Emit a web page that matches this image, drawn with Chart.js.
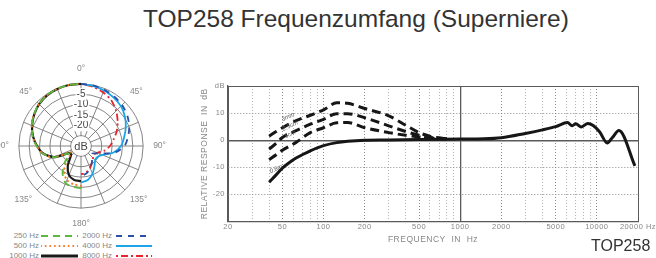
<!DOCTYPE html>
<html>
<head>
<meta charset="utf-8">
<script src="https://cdn.jsdelivr.net/npm/chart.js@4.4.1/dist/chart.umd.min.js"></script>
<style>
  html, body { margin: 0; padding: 0; background: #fff; }
  #page { position: relative; width: 656px; height: 258px; overflow: hidden; font-family: 'Liberation Sans', Arial, sans-serif; }
  #title { position: absolute; left: 143px; top: 5px; font-size: 24.5px; color: #333; white-space: nowrap; }
  #model { position: absolute; left: 591px; top: 237px; font-size: 16px; color: #333; }
  #polar { position: absolute; left: -4px; top: 63px; }
  #resp { position: absolute; left: 190px; top: 78px; }
  .lg { position: absolute; font-size: 8px; line-height: 10px; color: #888; white-space: nowrap; }
  .lg svg { position: absolute; top: 0; }
</style>
</head>
<body>
<div id="page">
  <div id="title">TOP258 Frequenzumfang (Superniere)</div>
  <canvas id="polar" width="171" height="166"></canvas>
  <canvas id="resp" width="466" height="180"></canvas>
  <div id="legend"></div>
  <div id="model">TOP258</div>
</div>
<script>
// ---- polar pattern (dB), one value every 11.25 deg, clockwise from 0 deg ----
const polarAngleLabels = ["0°", "", "", "", "45°", "", "", "", "90°", "", "", "", "135°", "", "", "",
                          "180°", "", "", "", "135°", "", "", "", "90°", "", "", "", "45°", "", "", ""];
const polarFreqLabels = ["250 Hz", "500 Hz", "1000 Hz", "2000 Hz", "4000 Hz", "8000 Hz"];

// low frequencies drawn on the left half, high frequencies on the right half
const polar250 = [0, null, null, null, null, null, null, null, null, null, null, null, null, null, null, null,
                  -9.6, -9.9, -10.6, -14, -19, -23.5, -15.8, -11.2, -8.6, -6.2, -4.3, -2.7, -1.3, -0.5, -0.1, 0];
const polar500 = [0, null, null, null, null, null, null, null, null, null, null, null, null, null, null, null,
                  -10.8, -11.2, -12.2, -15.2, -20.5, -24.5, -15.6, -11.2, -8.6, -6.2, -4.3, -2.7, -1.3, -0.5, -0.1, 0];
const polar1000 = [0, null, null, null, null, null, null, null, null, null, null, null, null, null, null, null,
                   -13, -13.3, -14.8, -18.5, -23, -24, -16, -11.4, -8.8, -6.4, -4.4, -2.8, -1.4, -0.6, -0.2, 0];
const polar2000 = [0, -0.2, -0.6, -1.2, -2, -3.2, -4.8, -6.8, -9, -13.5, -20.5, -23.5, -22.5, -20.5, -18.5, -16.5,
                   -15.5, null, null, null, null, null, null, null, null, null, null, null, null, null, null, null];
const polar4000 = [0, -0.4, -1, -1.8, -2.8, -4.5, -6.6, -8.8, -10.7, -14, -18.8, -20.5, -20.3, -18.3, -15.5, -13.3,
                   -12.4, null, null, null, null, null, null, null, null, null, null, null, null, null, null, null];
const polar8000 = [0, -0.8, -2, -3.6, -6, -8.7, -11.3, -14, -16, -18.5, -21.5, -22.5, -21.8, -20.5, -18.5, -17,
                   -16.3, null, null, null, null, null, null, null, null, null, null, null, null, null, null, null];
const polarRingTicks = [-30, -25, -20, -15, -10, -5, 0];

const polarColors = ["#5db83f", "#f07a26", "#1a1a1a", "#2b4fa6", "#1ba5e8", "#e6242b"];
const polarDashes = [[7, 5], [0.1, 4.5], [], [6, 6], [], [2, 3, 7, 3]];
const polarWidths = [1.8, 2.2, 2.2, 1.8, 1.8, 1.8];

// ---- frequency response ----
const freqGridValues = [20, 30, 40, 50, 60, 70, 80, 90, 100, 200, 300, 400, 500, 600, 700, 800, 900,
                        1000, 2000, 3000, 4000, 5000, 6000, 7000, 8000, 9000, 10000, 20000];
const freqLabelValues = [20, 50, 100, 200, 500, 1000, 2000, 5000, 10000, 20000];
const freqLabelTexts = ["20", "50", "100", "200", "500", "1000", "2000", "5000", "10000", "20000 Hz"];
const dbTickValues = [-30, -20, -10, 0, 10, 20];
const dbTickTexts = ["", "-20", "-10", "0", "10", "dB"];

const respFreq = [40, 45, 50, 56, 63, 71, 80, 90, 100, 125, 150, 200, 300, 500, 1000, 1500, 2000, 3000,
                  4000, 5000, 6100, 6600, 7000, 7700, 8600, 9400, 10500, 11900, 13000, 14500, 19000];
const respDb = [-15.5, -12.8, -10.3, -8.3, -6.6, -5.2, -3.9, -2.8, -2.0, -0.9, -0.4, 0, 0.1, 0.3, 0.4, 0.5, 0.9, 2.5,
                3.8, 5.0, 6.5, 5.3, 6.1, 4.9, 6.2, 5.4, 3.0, -1.0, 1.0, 3.6, -9.5];

const proxFreq = [40, 45, 50, 63, 80, 100, 125, 150, 200, 300, 400, 500, 630, 800];
const prox3mm = [1.5, 3.2, 4.6, 7.2, 9.2, 11.2, 13.8, 13.6, 11.7, 9.0, 5.5, 2.8, 1.2, 0.6];
const prox25mm = [-3.3, -1.2, 1.0, 3.5, 5.9, 7.7, 9.8, 9.8, 8.3, 5.3, 3.2, 1.8, 0.9, 0.5];
const prox50mm = [-7.2, -5.4, -3.7, -0.8, 2.8, 4.6, 6.4, 6.5, 4.6, 2.8, 1.8, 1.2, 0.7, 0.4];

const curveLabelText = ["3mm", "2.5cm", "5cm", "0.6m"];
const curveLabelFreq = [55, 57, 57, 45];
const curveLabelDb = [8.6, 5.3, 2.2, -10.6];

Chart.defaults.font.family = "'Liberation Sans', Arial, sans-serif";
Chart.defaults.animation = false;

// white disc with "dB" in the middle of the polar grid
const polarCenter = {
  id: "polarCenter",
  beforeDatasetsDraw(chart) {
    const r = chart.scales.r;
    const ctx = chart.ctx;
    const rad = r.getDistanceFromCenterForValue(-25);
    ctx.save();
    ctx.beginPath();
    ctx.arc(r.xCenter, r.yCenter, rad - 0.7, 0, Math.PI * 2);
    ctx.fillStyle = "#fff";
    ctx.fill();
    ctx.font = "11px 'Liberation Sans', Arial, sans-serif";
    ctx.fillStyle = "#444";
    ctx.textAlign = "center";
    ctx.textBaseline = "middle";
    ctx.fillText("dB", r.xCenter, r.yCenter + 0.5);
    ctx.restore();
  },
};

const polarSeries = [polar250, polar500, polar1000, polar2000, polar4000, polar8000];

new Chart(document.getElementById("polar"), {
  type: "radar",
  data: {
    labels: polarAngleLabels,
    datasets: polarSeries.map((d, i) => ({
      label: polarFreqLabels[i],
      data: d,
      borderColor: polarColors[i],
      borderDash: polarDashes[i],
      borderWidth: polarWidths[i],
      borderCapStyle: i === 1 ? "round" : "butt",
      fill: false,
      pointRadius: 0,
      tension: 0.25,
      spanGaps: false,
    })),
  },
  options: {
    responsive: false,
    plugins: { legend: { display: false }, tooltip: { enabled: false } },
    scales: {
      r: {
        min: -30,
        max: 0,
        afterBuildTicks: (s) => { s.ticks = polarRingTicks.map((v) => ({ value: v })); },
        angleLines: {
          color: (c) => (c.index % 2 === 0 ? "#777" : "rgba(0,0,0,0)"),
          lineWidth: 0.9,
        },
        grid: { color: "#777", lineWidth: 0.9, circular: true },
        pointLabels: {
          font: { size: 8.5 },
          color: "#888",
          padding: (c) => (c.index % 8 === 4 ? 1 : 4),
        },
        ticks: {
          callback: (v) => (v <= -5 && v >= -20 ? String(v) : ""),
          font: { size: 10 },
          color: "#444",
          backdropColor: (c) => (c.tick && c.tick.value <= -5 && c.tick.value >= -20 ? "#fff" : "rgba(0,0,0,0)"),
          backdropPadding: 1,
        },
      },
    },
  },
  plugins: [polarCenter],
});

// legend under the polar plot
const legendEl = document.getElementById("legend");
polarFreqLabels.forEach((name, i) => {
  const col = i < 3 ? 0 : 1;
  const row = i % 3;
  const item = document.createElement("div");
  item.className = "lg";
  const textRight = col === 0 ? 39 : 112;
  const lineX = col === 0 ? 41 : 116;
  const lineW = col === 0 ? 37 : 36;
  item.style.left = "0px";
  item.style.top = (231 + row * 10) + "px";
  item.style.width = "656px";
  const txt = document.createElement("span");
  txt.textContent = name;
  txt.style.position = "absolute";
  txt.style.right = (656 - textRight) + "px";
  item.appendChild(txt);
  const dash = polarDashes[i].join(" ");
  const w = i === 2 ? 3 : 2;
  item.insertAdjacentHTML("beforeend",
    `<svg width="${lineW}" height="10" style="left:${lineX}px"><line x1="0" y1="5" x2="${lineW}" y2="5" stroke="${polarColors[i]}" stroke-width="${w}" stroke-dasharray="${dash}" stroke-linecap="${i === 1 ? "round" : "butt"}"/></svg>`);
  legendEl.appendChild(item);
});

// frequency response chart
const strongX = [20, 1000, 20000];
const freqText = {
  id: "freqText",
  beforeDraw(chart) { chart.ctx.letterSpacing = "0.5px"; },
  afterDatasetsDraw(chart) {
    const { ctx, scales: { x, y } } = chart;
    ctx.save();
    ctx.letterSpacing = "0px";
    ctx.font = "italic 6px 'Liberation Sans', Arial, sans-serif";
    ctx.fillStyle = "#555";
    ctx.textAlign = "center";
    ctx.textBaseline = "middle";
    curveLabelText.forEach((t, i) => {
      ctx.save();
      ctx.translate(x.getPixelForValue(curveLabelFreq[i]), y.getPixelForValue(curveLabelDb[i]));
      ctx.rotate(-0.45);
      ctx.fillText(t, 0, 0);
      ctx.restore();
    });
    ctx.restore();
  },
  afterDraw(chart) { chart.ctx.letterSpacing = "0px"; },
};

const toXY = (xs, ys) => xs.map((f, i) => ({ x: f, y: ys[i] }));
const curve = (data, dashed) => ({
  data,
  borderColor: "#161616",
  borderWidth: 3,
  borderDash: dashed ? [9, 5] : [],
  pointRadius: 0,
  fill: false,
  cubicInterpolationMode: "monotone",
});

new Chart(document.getElementById("resp"), {
  type: "line",
  data: {
    datasets: [
      curve(toXY(respFreq, respDb), false),
      curve(toXY(proxFreq, prox3mm), true),
      curve(toXY(proxFreq, prox25mm), true),
      curve(toXY(proxFreq, prox50mm), true),
    ],
  },
  options: {
    responsive: false,
    layout: { padding: { top: 8, right: 18, bottom: 0, left: 0 } },
    plugins: { legend: { display: false }, tooltip: { enabled: false } },
    scales: {
      x: {
        type: "logarithmic",
        min: 20,
        max: 20000,
        afterBuildTicks: (s) => { s.ticks = freqGridValues.map((v) => ({ value: v })); },
        afterFit: (s) => { s.height = 36.5; },
        ticks: {
          autoSkip: false,
          maxRotation: 0,
          padding: 1,
          font: { size: 7.5 },
          color: "#888",
          callback: (v) => {
            const k = freqLabelValues.indexOf(v);
            return k >= 0 ? freqLabelTexts[k] : "";
          },
        },
        grid: {
          drawTicks: false,
          color: (c) => {
            const v = c.tick && c.tick.value;
            if (strongX.includes(v)) return "#5a5a5a";
            return freqLabelValues.includes(v) ? "#8a8a8a" : "#b4b4b4";
          },
          lineWidth: (c) => (c.tick && c.tick.value === 1000 ? 1.3 : 1),
        },
        border: {
          color: "#5a5a5a",
          width: 1.3,
          dash: (c) => (c.tick && !strongX.includes(c.tick.value) ? [1, 2] : []),
        },
        title: {
          display: true,
          text: "FREQUENCY  IN  Hz",
          font: { size: 8.5 },
          color: "#888",
          padding: { top: 0, bottom: 13 },
        },
      },
      y: {
        min: -30,
        max: 20,
        afterBuildTicks: (s) => { s.ticks = dbTickValues.map((v) => ({ value: v })); },
        afterFit: (s) => { s.width = 38; },
        ticks: {
          padding: 3,
          font: { size: 7.5 },
          color: "#888",
          callback: (v) => dbTickTexts[dbTickValues.indexOf(v)],
        },
        grid: {
          drawTicks: false,
          color: (c) => (c.tick && (c.tick.value === 0 || c.tick.value === 20) ? "#5a5a5a" : "#8a8a8a"),
          lineWidth: (c) => (c.tick && c.tick.value === 0 ? 1.4 : 1),
        },
        border: {
          color: "#5a5a5a",
          width: 1.3,
          dash: (c) => (c.tick && c.tick.value !== 0 && c.tick.value !== 20 && c.tick.value !== -30 ? [1, 2] : []),
        },
        title: {
          display: true,
          text: "RELATIVE RESPONSE  IN  dB",
          font: { size: 8.5 },
          color: "#888",
          padding: { top: 10, bottom: 0 },
        },
      },
    },
  },
  plugins: [freqText],
});
</script>
</body>
</html>
